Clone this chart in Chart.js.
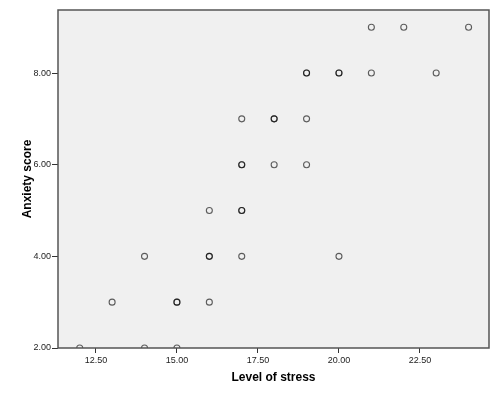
<!DOCTYPE html>
<html>
<head>
<meta charset="utf-8">
<script src="https://cdn.jsdelivr.net/npm/chart.js@4/dist/chart.umd.min.js"></script>
<style>
  html, body { margin: 0; padding: 0; background: #fff; }
  #wrap { width: 500px; height: 401px; }
</style>
</head>
<body>
<div id="wrap"><canvas id="scatter"></canvas></div>
<script>
// one entry per case (repeated pairs are overlapping cases)
var stress  = [21, 22, 24, 19, 19, 20, 20, 21, 23, 17, 18, 18, 19, 17, 17, 18, 19,
               16, 17, 17, 14, 16, 16, 17, 20, 13, 15, 15, 16, 12, 14, 15];
var anxiety = [9, 9, 9, 8, 8, 8, 8, 8, 8, 7, 7, 7, 7, 6, 6, 6, 6,
               5, 5, 5, 4, 4, 4, 4, 4, 3, 3, 3, 3, 2, 2, 2];
var xTicks = [12.5, 15, 17.5, 20, 22.5];
var yTicks = [2, 4, 6, 8];

var points = [];
for (var i = 0; i < stress.length; i++) {
  points.push({ x: stress[i], y: anxiety[i] });
}

// grey plot panel with a frame round it
var panel = {
  id: "panel",
  beforeDatasetsDraw: function (chart) {
    var a = chart.chartArea, c = chart.ctx;
    c.save();
    c.fillStyle = "#f0f0f0";
    c.fillRect(a.left, a.top, a.right - a.left, a.bottom - a.top);
    c.restore();
  },
  afterDraw: function (chart) {
    var a = chart.chartArea, c = chart.ctx;
    c.save();
    c.strokeStyle = "#555";
    c.lineWidth = 1.5;
    c.strokeRect(a.left, a.top, a.right - a.left, a.bottom - a.top);
    c.restore();
  }
};

var tickFont = { family: "Liberation Sans", size: 9 };
var titleFont = { family: "Liberation Sans", size: 12, weight: "bold" };

new Chart(document.getElementById("scatter"), {
  type: "scatter",
  data: {
    datasets: [{
      data: points,
      pointStyle: "circle",
      pointRadius: 3,
      pointHoverRadius: 3,
      pointBorderWidth: 1.1,
      pointBorderColor: "rgba(0,0,0,0.62)",
      pointBackgroundColor: "rgba(0,0,0,0)",
      clip: 0
    }]
  },
  options: {
    responsive: true,
    maintainAspectRatio: false,
    animation: false,
    layout: { padding: { top: 10, right: 11, left: 0, bottom: 0 } },
    plugins: { legend: { display: false }, tooltip: { enabled: false } },
    scales: {
      x: {
        type: "linear",
        min: 11.33,
        max: 24.63,
        afterBuildTicks: function (s) { s.ticks = xTicks.map(function (v) { return { value: v }; }); },
        afterFit: function (s) { s.height = 53; },
        ticks: {
          font: tickFont,
          color: "#222",
          padding: 2,
          maxRotation: 0,
          callback: function (v) { return v.toFixed(2); }
        },
        grid: { drawOnChartArea: false, tickLength: 5, color: "#333", tickWidth: 1 },
        border: { display: false },
        title: {
          display: true,
          text: "Level of stress",
          font: titleFont,
          color: "#000",
          padding: { top: 0, bottom: 16 }
        }
      },
      y: {
        type: "linear",
        min: 2,
        max: 9.375,
        afterBuildTicks: function (s) { s.ticks = yTicks.map(function (v) { return { value: v }; }); },
        afterFit: function (s) { s.width = 58; },
        ticks: {
          font: tickFont,
          color: "#222",
          padding: 1,
          callback: function (v) { return v.toFixed(2); }
        },
        grid: { drawOnChartArea: false, tickLength: 6, color: "#333", tickWidth: 1 },
        border: { display: false },
        title: {
          display: true,
          text: "Anxiety score",
          font: titleFont,
          color: "#000",
          padding: { top: 20, bottom: 0 }
        }
      }
    }
  },
  plugins: [panel]
});
</script>
</body>
</html>
